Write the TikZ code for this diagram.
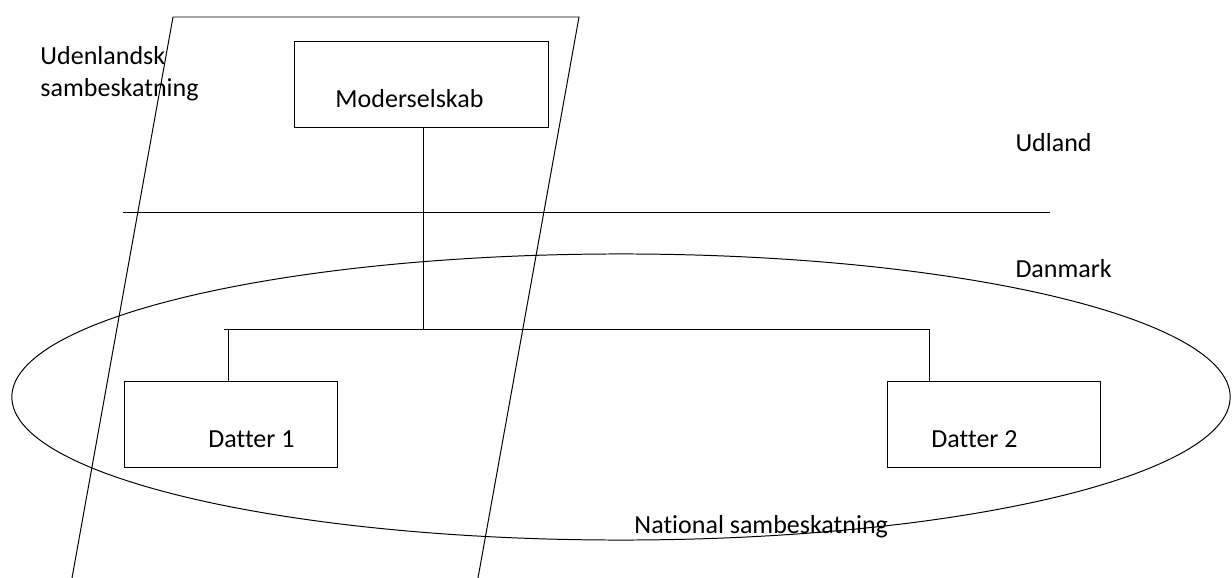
\documentclass[tikz,border=0pt]{standalone}
\usepackage{fontspec}
\setmainfont{Carlito}[Ligatures=NoCommon]
\usepackage{tikz}
\tikzset{
boks/.style={draw, line width=0.7pt, inner sep=0pt, minimum height=2.125cm},
tekst/.style={anchor=base west, inner sep=0pt, font=\fontsize{18.5}{22.8}\selectfont}
}

\begin{document}
\begin{tikzpicture}[x=0.025cm, y=-0.025cm, line width=0.7pt]
\useasboundingbox (0,0) rectangle (1232,578);

\draw (72,578)--(173,17)--(579,17)--(478,578);
\draw (123,212)--(1050,212);
\draw (621,397) ellipse [x radius=15.225cm, y radius=3.575cm];

\node[boks, minimum width=6.325cm] (moder) at (421.5,84.5) {};
\node[boks, minimum width=5.3125cm] (datter1) at (230.75,424.5) {};
\node[boks, minimum width=5.3125cm] (datter2) at (993.75,424.5) {};

\coordinate (split) at (423,329);
\coordinate (venstre) at (224,329);
\coordinate (stik1) at (228,329);
\coordinate (stik2) at (929,329);
\draw (moder.south -| split)--(split);
\draw (venstre)--(stik2);
\draw (stik1)--(datter1.north -| stik1);
\draw (stik2)--(datter2.north -| stik2);

\node[tekst] (tmoder) at (335,108) {Moderselskab};
\node[tekst] (tdatter1) at (208,447) {Datter 1};
\node[tekst] (tdatter2) at (931,447) {Datter 2};
\node[tekst] (udl1) at (40,65) {Udenlandsk};
\node[tekst] (udl2) at (40,97) {sambeskatning};
\node[tekst] (udland) at (1015,152) {Udland};
\node[tekst] (danmark) at (1015,277) {Danmark};
\node[tekst] (national) at (634,533) {National sambeskatning};
\end{tikzpicture}
\end{document}
